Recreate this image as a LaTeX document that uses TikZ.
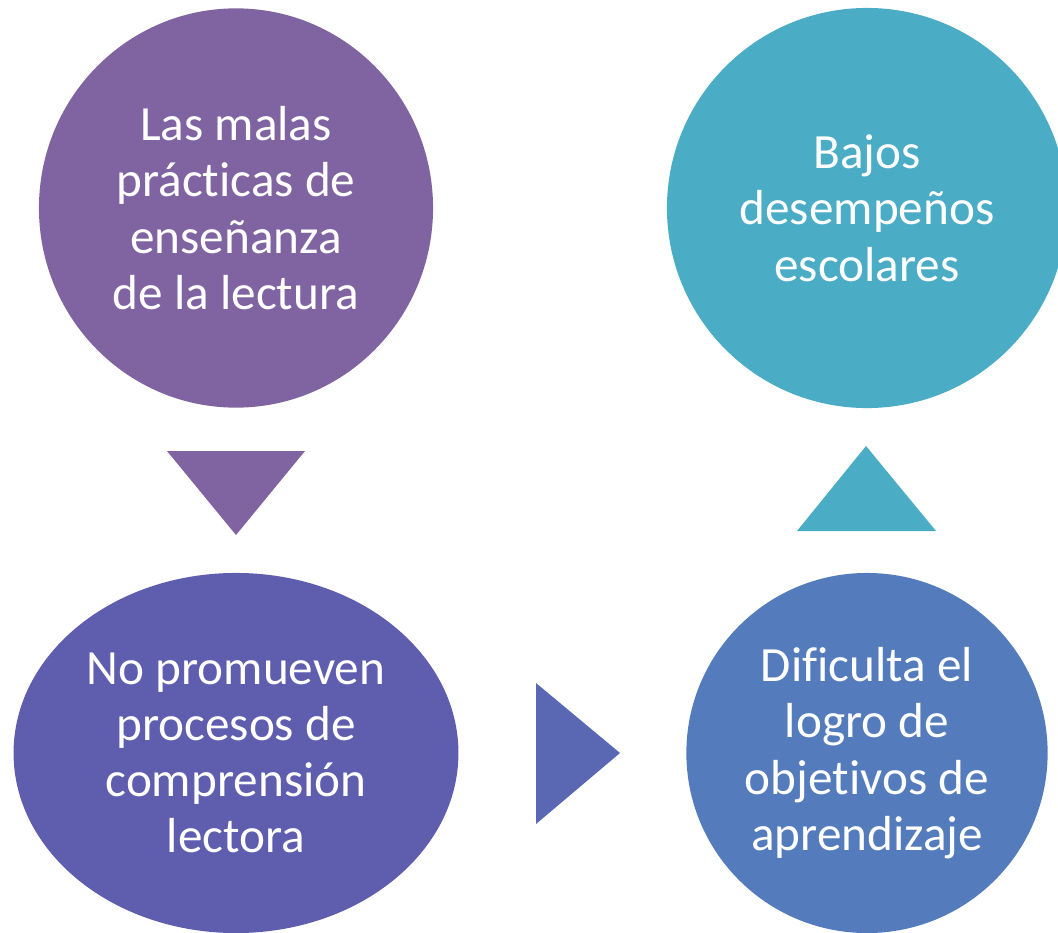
\documentclass[tikz,border=0pt]{standalone}
\usepackage{fontspec}
\setmainfont{Carlito}[Ligatures=NoCommon]
\usetikzlibrary{shapes.geometric}

\definecolor{morado}{HTML}{8064A2}
\definecolor{turquesa}{HTML}{4BACC6}
\definecolor{violeta}{HTML}{5F5DAD}
\definecolor{azul}{HTML}{547CBC}
\definecolor{flechaazul}{HTML}{5A68B4}

\begin{document}
\begin{tikzpicture}[x=0.025cm, y=-0.025cm,
  burbuja/.style={ellipse, inner sep=0pt, text=white, align=center,
    font=\fontsize{35}{40}\selectfont}]
\useasboundingbox (0,0) rectangle (1058,933);
\clip (0,0) rectangle (1058,933);
%
% circulos
\node[burbuja, fill=morado, minimum width=9.85cm, minimum height=9.98cm] (malas) at (236,208)
  {Las malas\\prácticas de\\enseñanza\\de la lectura};
\node[burbuja, fill=turquesa, minimum width=10cm, minimum height=10cm] (bajos) at (867,208)
  {Bajos\\desempeños\\escolares};
\node[burbuja, fill=violeta, minimum width=11.12cm, minimum height=9cm] (promueven) at (236,753)
  {No promueven\\procesos de\\comprensión\\lectora};
\node[burbuja, fill=azul, minimum width=9.03cm, minimum height=9cm] (dificulta) at (867,753)
  {Dificulta el\\logro de\\objetivos de\\aprendizaje};
%
% flechas
\fill[morado] (167,451) -- (305,451) -- (236,535) -- cycle;
\fill[flechaazul] (536,683) -- (620,753) -- (536,824) -- cycle;
\fill[turquesa] (797,531) -- (936,531) -- (866,446) -- cycle;

\end{tikzpicture}
\end{document}
